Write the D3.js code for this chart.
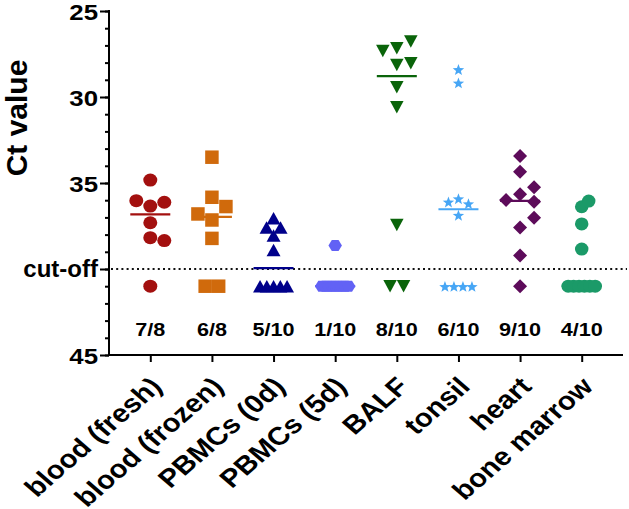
<!DOCTYPE html>
<html><head><meta charset="utf-8">
<script src="https://cdn.jsdelivr.net/npm/d3@7"></script>
<style>
html,body{margin:0;padding:0;background:#fff;}
svg{display:block;}
text{font-family:"Liberation Sans",Arial,sans-serif;font-weight:bold;fill:#000;}
</style></head>
<body>
<svg id="chart" width="629" height="509"></svg>
<script>
// ---------------- data ----------------
const categories = ["blood (fresh)", "blood (frozen)", "PBMCs (0d)", "PBMCs (5d)", "BALF", "tonsil", "heart", "bone marrow"];
// detected Ct values per sample type (order as plotted)
const ctBloodFresh  = [34.83, 36.34, 37.31, 36.12, 36.03, 38.18, 38.35];
const ctBloodFrozen = [33.5, 35.83, 37.15, 38.22, 36.37, 36.8];
const ctPbmc0d      = [37.05, 38.05, 38.9, 37.58, 37.58];
const ctPbmc5d      = [38.64];
const ctBalf        = [27.17, 26.78, 27.32, 28.14, 28.04, 29.44, 30.6, 37.44];
const ctTonsil      = [28.39, 29.17, 36.86, 35.9, 36.19, 36.09];
const ctHeart       = [33.43, 34.34, 35.66, 37.58, 39.22, 35.25, 35.99, 36.09, 37.02];
const ctBoneMarrow  = [36.38, 36.05, 37.38, 38.84];
// number of samples not detected (plotted below the cut-off)
const notDetected   = [1, 2, 5, 9, 2, 4, 1, 6];
const notDetectedCt = 41;
const cutoffCt = 40;
const yTicks = [25, 30, 35, 40, 45];
const yTickLabels = ["25", "30", "35", "cut-off", "45"];
const yLabel = "Ct value";

const ctSeries = [ctBloodFresh, ctBloodFrozen, ctPbmc0d, ctPbmc5d, ctBalf, ctTonsil, ctHeart, ctBoneMarrow];

// ---------------- styles ----------------
const colors = ["#A3100F", "#D06A0C", "#00008B", "#6262F5", "#0A640A", "#47A6F5", "#5D0B5A", "#1B9A68"];
const shapes = ["circle", "square", "triUp", "hexagon", "triDown", "star", "diamond", "circle"];
const symW   = [14, 13.5, 14, 13.5, 13.5, 12, 14, 13.5];
const symH   = [13, 13.5, 12.5, 11, 12.5, 12, 14, 13];
const swStep = [7, 7, 7, 7, 7, 5, 7, 7];
const swDist = [13, 13, 10, 13, 10, 10, 13, 7.5];

function shapePath(shape, w, h) {
  const a = w / 2, b = h / 2;
  switch (shape) {
    case "circle": return `M${-a},0A${a},${b} 0 1,0 ${a},0A${a},${b} 0 1,0 ${-a},0Z`;
    case "square": return `M${-a},${-b}H${a}V${b}H${-a}Z`;
    case "triUp": return `M0,${-b}L${a},${b}L${-a},${b}Z`;
    case "triDown": return `M${-a},${-b}L${a},${-b}L0,${b}Z`;
    case "diamond": return `M0,${-b}L${a},0L0,${b}L${-a},0Z`;
    case "hexagon": return `M${-a},0L${-a/2},${-b}L${a/2},${-b}L${a},0L${a/2},${b}L${-a/2},${b}Z`;
    case "star": {
      const R = a, r = a * 0.42; let s = "";
      for (let k = 0; k < 10; k++) {
        const ang = -Math.PI / 2 + k * Math.PI / 5;
        const rr = k % 2 === 0 ? R : r;
        s += (k === 0 ? "M" : "L") + (rr * Math.cos(ang)).toFixed(2) + "," + (rr * Math.sin(ang) + 0.8).toFixed(2);
      }
      return s + "Z";
    }
  }
}
function stretch(sel, k) {
  sel.each(function () {
    const len = this.getComputedTextLength();
    this.setAttribute("textLength", (len * k).toFixed(2));
    this.setAttribute("lengthAdjust", "spacingAndGlyphs");
  });
}

// ---------------- layout ----------------
const svg = d3.select("#chart");
const x = d3.scalePoint().domain(categories).range([109, 623]).padding(0.67);
const y = d3.scaleLinear().domain([25, 45]).range([11, 355]);

function swarm(values, step, dist) {
  const placed = [];
  const cands = [0];
  for (let k = 1; k <= 10; k++) cands.push(k * step, -k * step);
  values.forEach(v => {
    const py = y(v);
    for (const dx of cands) {
      if (placed.every(p => Math.hypot(p.dx - dx, p.py - py) >= dist)) { placed.push({ v, dx, py }); break; }
    }
  });
  return placed;
}

// cut-off line
svg.append("line")
  .attr("x1", 111).attr("x2", 627)
  .attr("y1", y(cutoffCt)).attr("y2", y(cutoffCt))
  .attr("stroke", "#111").attr("stroke-width", 2)
  .attr("stroke-dasharray", "2,3.2");

// axes
const yAxisMinor = d3.axisLeft(y).tickValues(d3.range(25, 46, 1)).tickSize(4).tickSizeOuter(0).tickFormat("");
const yAxisMajor = d3.axisLeft(y).tickValues(yTicks).tickSize(9).tickSizeOuter(0)
  .tickFormat((d, i) => yTickLabels[i]).tickPadding(2);
const gyMinor = svg.append("g").attr("transform", "translate(109,0)").call(yAxisMinor);
const gy = svg.append("g").attr("transform", "translate(109,0)").call(yAxisMajor);
[gyMinor, gy].forEach(g => {
  g.selectAll("path, line").attr("stroke", "#000").attr("stroke-width", 2);
});
gyMinor.select(".domain").remove();
gy.selectAll("text").style("font-family", '"Liberation Sans",Arial,sans-serif').attr("font-weight", "bold")
  .attr("font-size", d => d === cutoffCt ? 24 : 21.5)
  .attr("y", d => d === cutoffCt ? 0 : 2);
stretch(gy.selectAll("text").filter(d => d !== cutoffCt), 1.2);
gy.select(".domain").attr("d", `M0,${y(25)-1}V${y(45)}`);

const xAxis = d3.axisBottom(x).tickSize(7).tickSizeOuter(0).tickFormat("");
const gx = svg.append("g").attr("transform", `translate(0,${y(45)})`).call(xAxis);
gx.selectAll("path, line").attr("stroke", "#000").attr("stroke-width", 2);
gx.select(".domain").attr("d", `M108,0H623`);

// y label
svg.append("text")
  .attr("transform", `translate(16,118) rotate(-90)`)
  .attr("text-anchor", "middle").attr("dominant-baseline", "central")
  .attr("font-size", 30).text(yLabel);

// category labels (slightly widened, as in the original figure)
svg.append("g").selectAll("text").data(categories).join("text")
  .attr("transform", d => `translate(${x(d) + 13},388) scale(1.15,1) rotate(-45)`)
  .attr("text-anchor", "end")
  .attr("font-size", 25.5)
  .text(d => d);

// groups
categories.forEach((cat, i) => {
  const cx = x(cat);
  const pos = ctSeries[i];
  const nd = notDetected[i];
  const all = pos.concat(d3.range(nd).map(() => notDetectedCt));
  const med = d3.median(all);
  const g = svg.append("g");
  // median line
  g.append("line")
    .attr("x1", cx - 20).attr("x2", cx + 20)
    .attr("y1", y(med)).attr("y2", y(med))
    .attr("stroke", colors[i]).attr("stroke-width", 2.2);
  const path = shapePath(shapes[i], symW[i], symH[i]);
  // detected points
  const pts = swarm(pos, swStep[i], swDist[i]);
  g.selectAll("path.pos").data(pts).join("path").attr("class", "pos")
    .attr("d", path).attr("fill", colors[i])
    .attr("transform", p => `translate(${cx + p.dx},${p.py})`);
  // not detected
  const s = nd > 1 ? Math.min(symW[i], 27 / (nd - 1)) : 0;
  g.selectAll("path.neg").data(d3.range(nd)).join("path").attr("class", "neg")
    .attr("d", path).attr("fill", colors[i])
    .attr("transform", k => `translate(${cx + (k - (nd - 1) / 2) * s},${y(notDetectedCt)})`);
  // fraction label
  const t = g.append("text")
    .attr("x", cx).attr("y", 336)
    .attr("text-anchor", "middle").attr("font-size", 18)
    .text(`${pos.length}/${pos.length + nd}`);
  stretch(t, 1.2);
});
</script>
</body></html>
